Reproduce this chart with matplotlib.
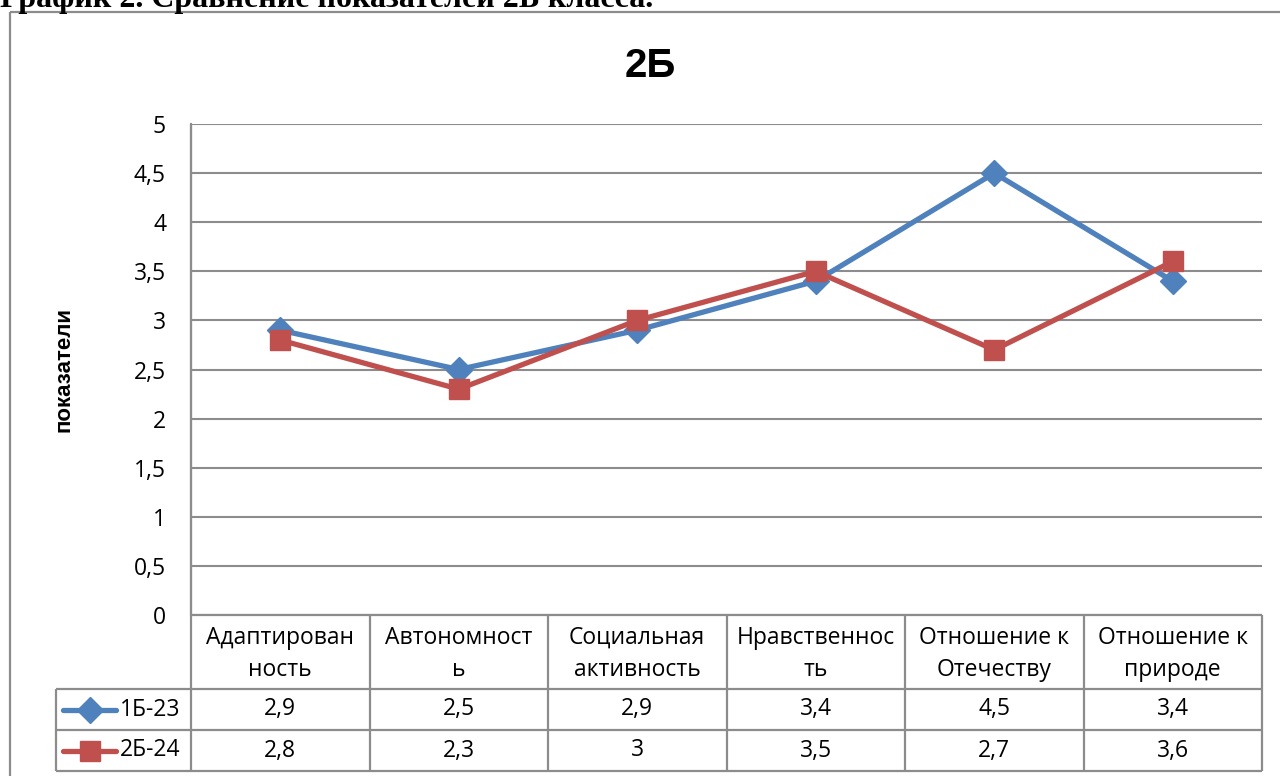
#!/usr/bin/env python
# -*- coding: utf-8 -*-
# 2Б: comparison of class indicators, line chart with a data table underneath

import numpy as np
import matplotlib
matplotlib.use("Agg")
from matplotlib import pyplot as plt
from matplotlib import ticker
from matplotlib.lines import Line2D
from matplotlib.patches import Rectangle

#!------------------------------------------------------------------------------
#!                                    DATA
#!------------------------------------------------------------------------------
categories = ["Адаптирован\nность", "Автономност\nь", "Социальная\nактивность",
              "Нравственнос\nть", "Отношение к\nОтечеству", "Отношение к\nприроде"]
series_names = ["1Б-23", "2Б-24"]
values_1b23 = [2.9, 2.5, 2.9, 3.4, 4.5, 3.4]
values_2b24 = [2.8, 2.3, 3.0, 3.5, 2.7, 3.6]
yticks = np.arange(0, 5.01, 0.5)

chart_title = "2Б"
y_label = "показатели"
page_caption = "График 2. Сравнение показателей 2Б класса."

#!------------------------------------------------------------------------------
#!                                   STYLE
#!------------------------------------------------------------------------------
BLUE = "#4F81BD"
RED = "#C0504D"
GREY = "#8C8C8C"
FONT = ["Open Sans", "DejaVu Sans"]
BOLD_FONT = ["Liberation Sans", "DejaVu Sans"]
plt.rcParams["font.family"] = FONT
FS = 16.5
MS_D, MS_S = 13, 15

W, H = 1280, 776
PLOT_L, PLOT_R, PLOT_T, PLOT_B = 191, 1262, 124, 615
ROW_Y = [689, 730, 771]          # bottom of header row, row 1, row 2
LEG_L = 56                       # left border of the series-name column


def fx(px):
    return px / W


def fy(py):
    return 1 - py / H


def fmt_comma(v, pos=None):
    s = ("%g" % v)
    return s.replace(".", ",")


#!------------------------------------------------------------------------------
#!                                    PLOT
#!------------------------------------------------------------------------------
def main():
    fig = plt.figure(figsize=(W / 100, H / 100), dpi=100)

    # pixel overlay for table, frame and captions
    pax = fig.add_axes([0, 0, 1, 1], zorder=0)
    pax.set_xlim(0, W)
    pax.set_ylim(H, 0)
    pax.axis("off")

    # outer chart frame (runs past right and bottom edges)
    pax.add_patch(Rectangle((10, 12), W + 20, H + 20, fill=False,
                            edgecolor=GREY, lw=1.6))

    ax = fig.add_axes([fx(PLOT_L), fy(PLOT_B), fx(PLOT_R - PLOT_L),
                       (PLOT_B - PLOT_T) / H], zorder=2)
    ax.patch.set_alpha(0)
    n = len(categories)
    x = np.arange(n) + 0.5

    ax.plot(x, values_1b23, color=BLUE, lw=3.8, marker="D", ms=MS_D,
            markeredgecolor=BLUE, label=series_names[0], zorder=3,
            solid_capstyle="round")
    ax.plot(x, values_2b24, color=RED, lw=3.8, marker="s", ms=MS_S,
            markeredgecolor=RED, label=series_names[1], zorder=4,
            solid_capstyle="round")

    ax.set_xlim(0, n)
    ax.set_ylim(0, 5)
    ax.set_yticks(yticks)
    ax.yaxis.set_major_formatter(ticker.FuncFormatter(fmt_comma))
    ax.set_xticks([])
    ax.tick_params(axis="y", length=0, pad=18, labelsize=FS)
    ax.grid(axis="y", color=GREY, lw=1.5)
    ax.set_axisbelow(True)
    for side in ("top", "right", "bottom"):
        ax.spines[side].set_visible(False)
    ax.spines["left"].set_color(GREY)
    ax.spines["left"].set_linewidth(1.5)

    fig.text(fx(650), fy(66), chart_title, ha="center", va="center",
             fontsize=29, fontweight="bold", family=BOLD_FONT)
    fig.text(fx(64), fy(369), y_label, rotation=90, ha="center", va="center",
             fontsize=16, fontweight="bold", family=BOLD_FONT)

    # ---- data table under the plot
    col_w = (PLOT_R - PLOT_L) / n
    lc = dict(color=GREY, lw=1.6, solid_capstyle="butt")
    pax.plot([PLOT_L, PLOT_R], [PLOT_B, PLOT_B], **lc)
    for yy in ROW_Y:
        pax.plot([LEG_L, PLOT_R], [yy, yy], **lc)
    for i in range(n + 1):
        xx = PLOT_L + i * col_w
        pax.plot([xx, xx], [PLOT_B, ROW_Y[-1]], **lc)
    pax.plot([PLOT_L, PLOT_L], [PLOT_T, PLOT_B], **lc)
    pax.plot([LEG_L, LEG_L], [ROW_Y[0], ROW_Y[-1]], **lc)

    for i, cat in enumerate(categories):
        cx = PLOT_L + (i + 0.5) * col_w
        pax.text(cx, (PLOT_B + ROW_Y[0]) / 2 + 2, cat, ha="center",
                 va="center", fontsize=FS, linespacing=1.5)

    rows = [(series_names[0], values_1b23, BLUE, "D", MS_D),
            (series_names[1], values_2b24, RED, "s", MS_S)]
    tops = [ROW_Y[0], ROW_Y[1]]
    for (name, vals, col, mk, ms), top, bot in zip(rows, tops, ROW_Y[1:]):
        cy = (top + bot) / 2
        for i, v in enumerate(vals):
            cx = PLOT_L + (i + 0.5) * col_w
            pax.text(cx, cy, fmt_comma(v), ha="center", va="center",
                     fontsize=FS)
        pax.add_line(Line2D([63, 116], [cy, cy], color=col, lw=3.8,
                            solid_capstyle="round"))
        pax.add_line(Line2D([89.5], [cy], color=col, marker=mk, ms=ms,
                            markeredgecolor=col))
        pax.text(120, cy, name, ha="left", va="center", fontsize=FS)

    # page caption cut off at top of the image
    fig.text(0, fy(7), page_caption, ha="left", va="baseline", fontsize=23,
             fontweight="bold", family=["Liberation Serif", "DejaVu Serif"])

    fig.savefig("out.png", dpi=100)


if __name__ == '__main__':
    main()
